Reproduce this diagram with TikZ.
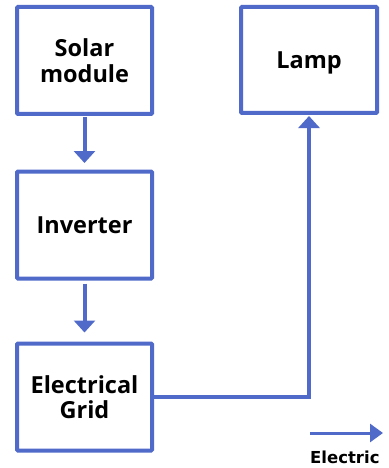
\documentclass[tikz,border=0pt]{standalone}
\usepackage{fontspec}
\setmainfont{Open Sans}
\newfontfamily\legendfont{DejaVu Sans}
\usetikzlibrary{arrows.meta}
\definecolor{bl}{RGB}{80,106,202}
\tikzset{
  blk/.style={draw=bl, line width=4pt, minimum width=135pt, minimum height=107pt, align=center, font=\fontsize{23.5}{25.5}\selectfont\bfseries, inner sep=0pt, rounded corners=1pt},
  conn/.style={draw=bl, line width=4pt, -{Triangle[width=21pt,length=12pt]}},
}
\begin{document}
\begin{tikzpicture}[x=1pt,y=-1pt]
\useasboundingbox (0,0) rectangle (388,468);
\node[blk] (solar) at (84.5,60.5) {Solar\\module};
\node[blk] (inv) at (84.5,225) {Inverter};
\node[blk] (grid) at (84.5,397) {Electrical\\Grid};
\node[blk, minimum width=136pt, minimum height=106pt, text height=23pt, text depth=5.6pt] (lamp) at (309,60) {Lamp};
\draw[conn] ([yshift=-1pt]solar.south) -- ++(0,46);
\draw[conn] ([yshift=-3pt]inv.south) -- ++(0,49);
\coordinate (corner) at (lamp.south |- grid.east);
\draw[conn] (grid.east) -- (corner) -- ([yshift=-1pt]lamp.south);
\coordinate (la) at (310,433);
\coordinate (lb) at (383,433);
\draw[conn, line width=3pt, -{Triangle[width=18pt,length=13pt]}] (la) -- (lb);
\node[anchor=base west, inner sep=0pt, font=\legendfont\fontsize{16.5}{18}\selectfont\bfseries] (lt) at (310,463) {Electric};
\end{tikzpicture}
\end{document}
